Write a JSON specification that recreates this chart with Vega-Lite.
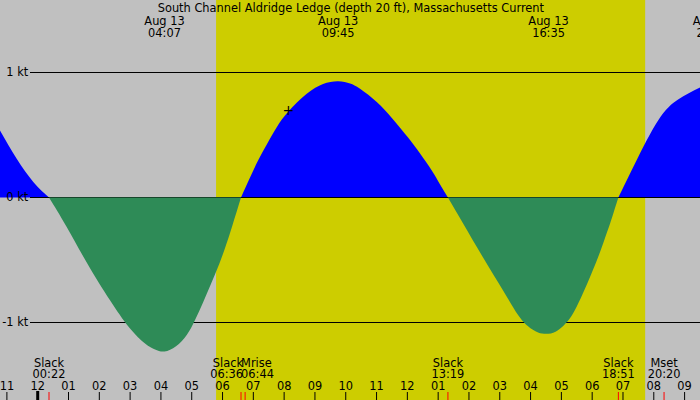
{
  "$schema": "https://vega.github.io/schema/vega-lite/v6.json",
  "width": 700,
  "height": 400,
  "autosize": {"type": "none"},
  "padding": 0,
  "background": "#c0c0c0",
  "config": {"view": {"stroke": null}, "text": {"font": "DejaVu Sans", "fontSize": 11.4, "color": "#000000"}},
  "datasets": {
    "curve": [
      {"h": -1.224, "v": 0.536, "phase": "f1", "kind": "flood"},
      {"h": -0.682, "v": 0.31, "phase": "f1", "kind": "flood"},
      {"h": -0.143, "v": 0.125, "phase": "f1", "kind": "flood"},
      {"h": 0.367, "v": 0.0, "phase": "f1", "kind": "flood"},
      {"h": 0.367, "v": 0.0, "phase": "e1", "kind": "ebb"},
      {"h": 0.932, "v": -0.232, "phase": "e1", "kind": "ebb"},
      {"h": 1.685, "v": -0.56, "phase": "e1", "kind": "ebb"},
      {"h": 2.438, "v": -0.856, "phase": "e1", "kind": "ebb"},
      {"h": 2.997, "v": -1.048, "phase": "e1", "kind": "ebb"},
      {"h": 3.484, "v": -1.168, "phase": "e1", "kind": "ebb"},
      {"h": 3.81, "v": -1.216, "phase": "e1", "kind": "ebb"},
      {"h": 4.117, "v": -1.232, "phase": "e1", "kind": "ebb"},
      {"h": 4.49, "v": -1.19, "phase": "e1", "kind": "ebb"},
      {"h": 4.838, "v": -1.1, "phase": "e1", "kind": "ebb"},
      {"h": 5.107, "v": -0.98, "phase": "e1", "kind": "ebb"},
      {"h": 5.367, "v": -0.84, "phase": "e1", "kind": "ebb"},
      {"h": 5.627, "v": -0.69, "phase": "e1", "kind": "ebb"},
      {"h": 5.896, "v": -0.53, "phase": "e1", "kind": "ebb"},
      {"h": 6.114, "v": -0.38, "phase": "e1", "kind": "ebb"},
      {"h": 6.318, "v": -0.225, "phase": "e1", "kind": "ebb"},
      {"h": 6.6, "v": 0.0, "phase": "e1", "kind": "ebb"},
      {"h": 6.6, "v": 0.0, "phase": "f2", "kind": "flood"},
      {"h": 6.893, "v": 0.16, "phase": "f2", "kind": "flood"},
      {"h": 7.162, "v": 0.3, "phase": "f2", "kind": "flood"},
      {"h": 7.445, "v": 0.428, "phase": "f2", "kind": "flood"},
      {"h": 7.76, "v": 0.562, "phase": "f2", "kind": "flood"},
      {"h": 8.136, "v": 0.688, "phase": "f2", "kind": "flood"},
      {"h": 8.734, "v": 0.83, "phase": "f2", "kind": "flood"},
      {"h": 9.263, "v": 0.908, "phase": "f2", "kind": "flood"},
      {"h": 9.75, "v": 0.93, "phase": "f2", "kind": "flood"},
      {"h": 10.14, "v": 0.912, "phase": "f2", "kind": "flood"},
      {"h": 10.464, "v": 0.87, "phase": "f2", "kind": "flood"},
      {"h": 11.006, "v": 0.765, "phase": "f2", "kind": "flood"},
      {"h": 11.503, "v": 0.635, "phase": "f2", "kind": "flood"},
      {"h": 12.023, "v": 0.48, "phase": "f2", "kind": "flood"},
      {"h": 12.412, "v": 0.352, "phase": "f2", "kind": "flood"},
      {"h": 12.792, "v": 0.216, "phase": "f2", "kind": "flood"},
      {"h": 13.062, "v": 0.104, "phase": "f2", "kind": "flood"},
      {"h": 13.317, "v": 0.0, "phase": "f2", "kind": "flood"},
      {"h": 13.317, "v": 0.0, "phase": "e2", "kind": "ebb"},
      {"h": 13.81, "v": -0.208, "phase": "e2", "kind": "ebb"},
      {"h": 14.458, "v": -0.48, "phase": "e2", "kind": "ebb"},
      {"h": 15.107, "v": -0.744, "phase": "e2", "kind": "ebb"},
      {"h": 15.594, "v": -0.94, "phase": "e2", "kind": "ebb"},
      {"h": 15.919, "v": -1.03, "phase": "e2", "kind": "ebb"},
      {"h": 16.243, "v": -1.08, "phase": "e2", "kind": "ebb"},
      {"h": 16.583, "v": -1.09, "phase": "e2", "kind": "ebb"},
      {"h": 16.89, "v": -1.062, "phase": "e2", "kind": "ebb"},
      {"h": 17.216, "v": -0.985, "phase": "e2", "kind": "ebb"},
      {"h": 17.44, "v": -0.9, "phase": "e2", "kind": "ebb"},
      {"h": 17.7, "v": -0.765, "phase": "e2", "kind": "ebb"},
      {"h": 17.964, "v": -0.615, "phase": "e2", "kind": "ebb"},
      {"h": 18.2, "v": -0.472, "phase": "e2", "kind": "ebb"},
      {"h": 18.386, "v": -0.345, "phase": "e2", "kind": "ebb"},
      {"h": 18.581, "v": -0.208, "phase": "e2", "kind": "ebb"},
      {"h": 18.711, "v": -0.108, "phase": "e2", "kind": "ebb"},
      {"h": 18.85, "v": 0.0, "phase": "e2", "kind": "ebb"},
      {"h": 18.85, "v": 0.0, "phase": "f3", "kind": "flood"},
      {"h": 19.39, "v": 0.272, "phase": "f3", "kind": "flood"},
      {"h": 20.14, "v": 0.616, "phase": "f3", "kind": "flood"},
      {"h": 20.789, "v": 0.784, "phase": "f3", "kind": "flood"},
      {"h": 21.5, "v": 0.88, "phase": "f3", "kind": "flood"}
    ],
    "bands": [{"start": 5.79, "end": 19.72}],
    "levels": [
      {"v": 1, "label": "1 kt"},
      {"v": 0, "label": "0 kt"},
      {"v": -1, "label": "-1 kt"}
    ],
    "extremes": [
      {"h": 4.117, "date": "Aug 13", "time": "04:07"},
      {"h": 9.75, "date": "Aug 13", "time": "09:45"},
      {"h": 16.583, "date": "Aug 13", "time": "16:35"},
      {"h": 21.92, "date": "Aug 13", "time": "21:55"}
    ],
    "events": [
      {"h": 0.367, "name": "Slack", "time": "00:22", "place": "center"},
      {"h": 6.6, "name": "Slack", "time": "06:36", "place": "right"},
      {"h": 6.733, "name": "Mrise", "time": "06:44", "place": "left"},
      {"h": 13.317, "name": "Slack", "time": "13:19", "place": "center"},
      {"h": 18.85, "name": "Slack", "time": "18:51", "place": "center"},
      {"h": 20.333, "name": "Mset", "time": "20:20", "place": "center"}
    ],
    "hours": [
      {"h": -1, "label": "11"}, {"h": 0, "label": "12"}, {"h": 1, "label": "01"},
      {"h": 2, "label": "02"}, {"h": 3, "label": "03"}, {"h": 4, "label": "04"},
      {"h": 5, "label": "05"}, {"h": 6, "label": "06"}, {"h": 7, "label": "07"},
      {"h": 8, "label": "08"}, {"h": 9, "label": "09"}, {"h": 10, "label": "10"},
      {"h": 11, "label": "11"}, {"h": 12, "label": "12"}, {"h": 13, "label": "01"},
      {"h": 14, "label": "02"}, {"h": 15, "label": "03"}, {"h": 16, "label": "04"},
      {"h": 17, "label": "05"}, {"h": 18, "label": "06"}, {"h": 19, "label": "07"},
      {"h": 20, "label": "08"}, {"h": 21, "label": "09"}
    ],
    "marker": [{"h": 8.136, "v": 0.688}],
    "title": [{"h": 10.166, "text": "South Channel Aldridge Ledge (depth 20 ft), Massachusetts Current"}]
  },
  "layer": [
    {
      "data": {"name": "bands"},
      "mark": {"type": "rect", "color": "#cdcd00"},
      "encoding": {
        "x": {"field": "start", "type": "quantitative", "scale": {"domain": [-1.224, 21.5], "nice": false, "zero": false}, "axis": null},
        "x2": {"field": "end"}
      }
    },
    {
      "data": {"name": "curve"},
      "transform": [{"filter": "datum.kind === 'flood'"}],
      "mark": {"type": "area", "color": "#0000ff", "interpolate": "natural"},
      "encoding": {
        "x": {"field": "h", "type": "quantitative", "scale": {"domain": [-1.224, 21.5], "nice": false, "zero": false}, "axis": null},
        "y": {"field": "v", "type": "quantitative", "scale": {"domain": [-1.62, 1.58], "nice": false, "zero": false}, "axis": null, "stack": null},
        "y2": {"datum": 0},
        "detail": {"field": "phase"}
      }
    },
    {
      "data": {"name": "levels"},
      "mark": {"type": "rule", "color": "#000000", "strokeWidth": 1},
      "encoding": {
        "x": {"datum": -0.25, "type": "quantitative"},
        "x2": {"datum": 21.5},
        "y": {"field": "v", "type": "quantitative"}
      }
    },
    {
      "data": {"name": "curve"},
      "transform": [{"filter": "datum.kind === 'ebb'"}],
      "mark": {"type": "area", "color": "#2e8b57", "interpolate": "natural"},
      "encoding": {
        "x": {"field": "h", "type": "quantitative"},
        "y": {"field": "v", "type": "quantitative", "stack": null},
        "y2": {"datum": 0},
        "detail": {"field": "phase"}
      }
    },
    {
      "data": {"name": "levels"},
      "mark": {"type": "text", "align": "right", "baseline": "middle"},
      "encoding": {
        "x": {"datum": -0.305, "type": "quantitative"},
        "y": {"field": "v", "type": "quantitative"},
        "text": {"field": "label"}
      }
    },
    {
      "data": {"name": "marker"},
      "mark": {"type": "text", "text": "+", "fontSize": 14, "align": "center", "baseline": "middle", "dy": -1},
      "encoding": {
        "x": {"field": "h", "type": "quantitative"},
        "y": {"field": "v", "type": "quantitative"}
      }
    },
    {
      "data": {"name": "title"},
      "mark": {"type": "text", "align": "center", "baseline": "alphabetic"},
      "encoding": {
        "x": {"field": "h", "type": "quantitative"},
        "y": {"datum": 1.488, "type": "quantitative"},
        "text": {"field": "text"}
      }
    },
    {
      "data": {"name": "extremes"},
      "mark": {"type": "text", "align": "center", "baseline": "alphabetic"},
      "encoding": {
        "x": {"field": "h", "type": "quantitative"},
        "y": {"datum": 1.384, "type": "quantitative"},
        "text": {"field": "date"}
      }
    },
    {
      "data": {"name": "extremes"},
      "mark": {"type": "text", "align": "center", "baseline": "alphabetic"},
      "encoding": {
        "x": {"field": "h", "type": "quantitative"},
        "y": {"datum": 1.288, "type": "quantitative"},
        "text": {"field": "time"}
      }
    },
    {
      "data": {"name": "events"},
      "transform": [{"filter": "datum.place === 'center'"}],
      "layer": [
        {
          "mark": {"type": "text", "align": "center", "baseline": "alphabetic"},
          "encoding": {
            "x": {"field": "h", "type": "quantitative"},
            "y": {"datum": -1.356, "type": "quantitative"},
            "text": {"field": "name"}
          }
        },
        {
          "mark": {"type": "text", "align": "center", "baseline": "alphabetic"},
          "encoding": {
            "x": {"field": "h", "type": "quantitative"},
            "y": {"datum": -1.444, "type": "quantitative"},
            "text": {"field": "time"}
          }
        }
      ]
    },
    {
      "data": {"name": "events"},
      "transform": [{"filter": "datum.place === 'right'"}],
      "layer": [
        {
          "mark": {"type": "text", "align": "right", "baseline": "alphabetic", "dx": 2},
          "encoding": {
            "x": {"field": "h", "type": "quantitative"},
            "y": {"datum": -1.356, "type": "quantitative"},
            "text": {"field": "name"}
          }
        },
        {
          "mark": {"type": "text", "align": "right", "baseline": "alphabetic", "dx": 2},
          "encoding": {
            "x": {"field": "h", "type": "quantitative"},
            "y": {"datum": -1.444, "type": "quantitative"},
            "text": {"field": "time"}
          }
        }
      ]
    },
    {
      "data": {"name": "events"},
      "transform": [{"filter": "datum.place === 'left'"}],
      "layer": [
        {
          "mark": {"type": "text", "align": "left", "baseline": "alphabetic", "dx": -4},
          "encoding": {
            "x": {"field": "h", "type": "quantitative"},
            "y": {"datum": -1.356, "type": "quantitative"},
            "text": {"field": "name"}
          }
        },
        {
          "mark": {"type": "text", "align": "left", "baseline": "alphabetic", "dx": -4},
          "encoding": {
            "x": {"field": "h", "type": "quantitative"},
            "y": {"datum": -1.444, "type": "quantitative"},
            "text": {"field": "time"}
          }
        }
      ]
    },
    {
      "data": {"name": "hours"},
      "mark": {"type": "rule", "color": "#000000", "strokeWidth": 1},
      "encoding": {
        "x": {"field": "h", "type": "quantitative"},
        "y": {"datum": -1.556, "type": "quantitative"},
        "y2": {"datum": -1.62}
      }
    },
    {
      "data": {"name": "hours"},
      "transform": [{"filter": "datum.h === 0"}],
      "mark": {"type": "rule", "color": "#000000", "strokeWidth": 3},
      "encoding": {
        "x": {"field": "h", "type": "quantitative"},
        "y": {"datum": -1.548, "type": "quantitative"},
        "y2": {"datum": -1.62}
      }
    },
    {
      "data": {"name": "hours"},
      "mark": {"type": "text", "align": "center", "baseline": "alphabetic"},
      "encoding": {
        "x": {"field": "h", "type": "quantitative"},
        "y": {"datum": -1.54, "type": "quantitative"},
        "text": {"field": "label"}
      }
    },
    {
      "data": {"name": "events"},
      "mark": {"type": "rule", "color": "#ff0000", "strokeWidth": 1},
      "encoding": {
        "x": {"field": "h", "type": "quantitative"},
        "y": {"datum": -1.556, "type": "quantitative"},
        "y2": {"datum": -1.62}
      }
    }
  ]
}
